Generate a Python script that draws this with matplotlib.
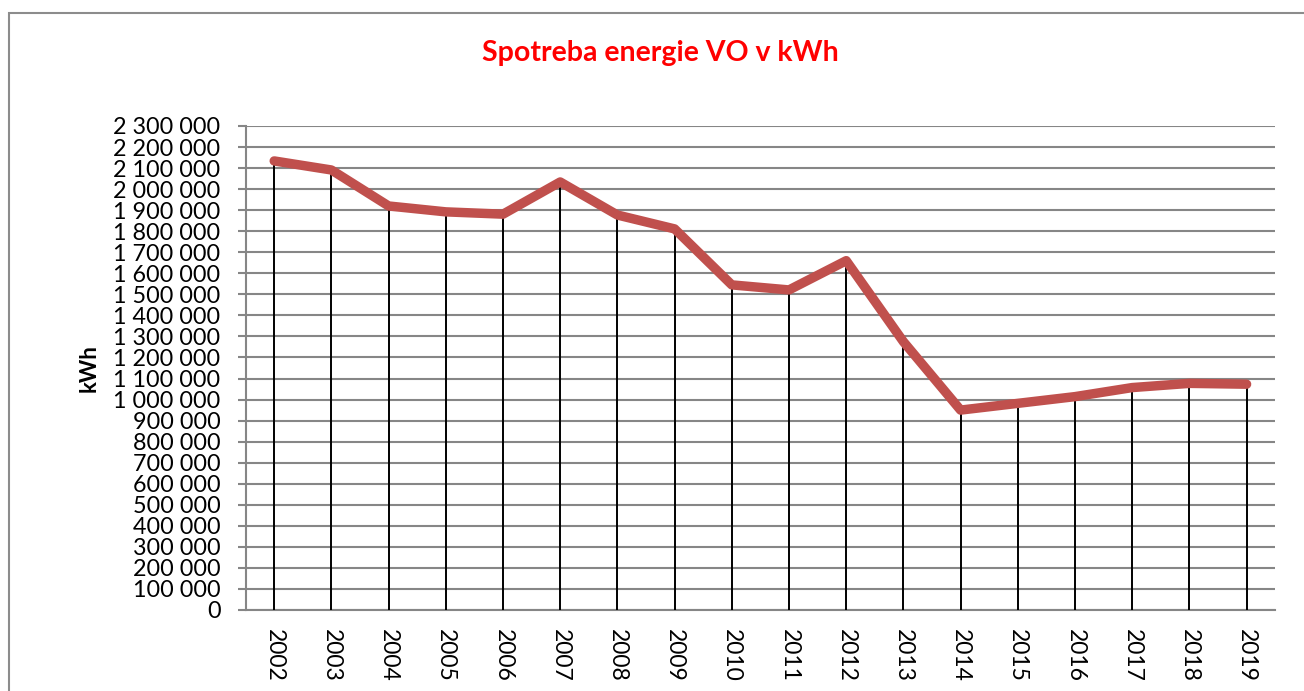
import matplotlib
matplotlib.use('Agg')
import matplotlib.pyplot as plt
import matplotlib.patches as patches
from matplotlib.ticker import FuncFormatter, MultipleLocator

plt.rcParams['font.family'] = ['Lato', 'DejaVu Sans']

# data
years = ['2002', '2003', '2004', '2005', '2006', '2007', '2008', '2009', '2010',
         '2011', '2012', '2013', '2014', '2015', '2016', '2017', '2018', '2019']
kwh = [2134000, 2091000, 1920000, 1892000, 1881000, 2034000, 1877000, 1811000, 1545000,
       1521000, 1660000, 1275000, 950000, 982000, 1014000, 1057000, 1077000, 1073000]

W, H = 1304, 691
fig = plt.figure(figsize=(W / 100, H / 100), dpi=100)
fig.patch.set_facecolor('white')

# ramik okolo grafu
frame = patches.Rectangle((9 / W, -0.1), 1.2, (H - 13) / H + 0.1, transform=fig.transFigure,
                          fill=False, edgecolor='#8c8c8c', linewidth=1.5)
fig.patches.append(frame)

left, right, top, bottom = 245.6, 1275.2, 126, 610
ax = fig.add_axes([left / W, (H - bottom) / H, (right - left) / W, (bottom - top) / H])

x = list(range(len(years)))

# zvisle ciary k osi
ax.vlines(x, 0, kwh, colors='black', linewidth=1.4, zorder=3)
ax.plot(x, kwh, color='#C0504D', linewidth=6.8, solid_capstyle='round',
        solid_joinstyle='round', zorder=4)

ax.set_xlim(-0.5, len(years) - 0.5)
ax.set_ylim(0, 2300000)
ax.yaxis.set_major_locator(MultipleLocator(100000))
ax.yaxis.set_major_formatter(FuncFormatter(lambda v, p: '{:,.0f}'.format(v).replace(',', ' ')))
ax.set_xticks(x)
ax.set_xticklabels(years, rotation=270, fontsize=16.5)

ax.grid(axis='y', color='#868686', linewidth=1.5)
ax.set_axisbelow(True)
for s in ['top', 'right']:
    ax.spines[s].set_visible(False)
for s in ['left', 'bottom']:
    ax.spines[s].set_color('#868686')
    ax.spines[s].set_linewidth(1.5)

ax.tick_params(axis='y', length=6, width=1.5, color='#868686', labelsize=16.8, pad=12)
ax.tick_params(axis='x', length=0, pad=14)

ax.set_ylabel('kWh', fontsize=16, fontweight='bold')
ax.yaxis.set_label_coords((100 - left) / (right - left), (bottom - 368) / (bottom - top))

fig.text(660 / W, 1 - 53 / H, 'Spotreba energie VO v kWh', color='red', fontsize=20.5,
         fontweight='bold', ha='center', va='center')

fig.savefig('out.png', dpi=100, facecolor='white')
plt.close()
